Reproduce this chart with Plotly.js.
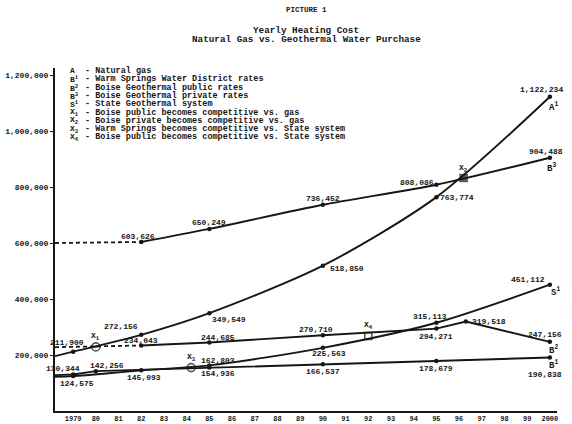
<!DOCTYPE html>
<html><head><meta charset="utf-8">
<script src="https://cdn.plot.ly/plotly-3.0.1.min.js"></script>
<style>html,body{margin:0;padding:0;background:#fff}#chart{width:572px;height:424px}</style>
</head><body><div id="chart"></div>
<script>
// ---------- data ----------
const lineStartYear = 1978.2;   // where the drawn lines meet the vertical axis

const gasYears = [1979, 1982, 1985, 1990, 1995, 2000];
const gasCost  = [211900, 272156, 349549, 518850, 763774, 1122234];
const gasStart = 196000;

const warmYears = [1979, 1980, 1985, 1990, 1995, 2000];
const warmCost  = [130344, 142256, 154936, 166537, 178679, 190838];
const warmStart = 128000;

const boisePubYears = [1982, 1985, 1990, 1995, 1996.3, 2000];
const boisePubCost  = [234043, 244685, 270710, 294271, 319518, 247156];
const boisePubStart = 228000;

const boisePrivYears = [1982, 1985, 1990, 1995, 2000];
const boisePrivCost  = [603626, 650249, 736452, 808086, 904488];
const boisePrivStart = 600000;

const stateYears = [1979, 1982, 1985, 1990, 1995, 2000];
const stateCost  = [124575, 145093, 162803, 225563, 315113, 451112];
const stateStart = 122000;

const crossNames = ['X<sub>1</sub>', 'X<sub>2</sub>', 'X<sub>3</sub>', 'X<sub>4</sub>'];
const crossYears = [1980, 1996.2, 1984.2, 1992];
const crossCost  = [229000, 832000, 155000, 268000];

const legendKeys = ['A', 'B<sup>1</sup>', 'B<sup>2</sup>', 'B<sup>3</sup>', 'S<sup>1</sup>',
                    'X<sub>1</sub>', 'X<sub>2</sub>', 'X<sub>3</sub>', 'X<sub>4</sub>'];
const legendTexts = ['Natural gas',
                     'Warm Springs Water District rates',
                     'Boise Geothermal public rates',
                     'Boise Geothermal private rates',
                     'State Geothermal system',
                     'Boise public becomes competitive vs. gas',
                     'Boise private becomes competitive vs. gas',
                     'Warm Springs becomes competitive vs. State system',
                     'Boise public becomes competitive vs. State system'];

const yearTicks = [1979,1980,1981,1982,1983,1984,1985,1986,1987,1988,1989,1990,
                   1991,1992,1993,1994,1995,1996,1997,1998,1999,2000];
const yearTickText = ['1979','80','81','82','83','84','85','86','87','88','89','90',
                      '91','92','93','94','95','96','97','98','99','2000'];
const costTicks = [200000, 400000, 600000, 800000, 1000000, 1200000];

const titleLines = ['PICTURE 1', 'Yearly Heating Cost', 'Natural Gas vs. Geothermal Water Purchase'];

// ---------- styling ----------
const INK = '#161616';
const MONO = '"Liberation Mono", "DejaVu Sans Mono", monospace';
const fmt = v => v.toLocaleString('en-US');

const series = [
  {years: gasYears, cost: gasCost, start: gasStart, startDashed: false, shape: 'spline',
   key: 'A<sup>1</sup>', keyOff: [4, -10],
   offs: [[-6, 9], [-20, 8], [20, -6], [24, -3], [21, 0], [-8, 7]]},
  {years: warmYears, cost: warmCost, start: warmStart, startDashed: false, shape: 'linear',
   key: 'B<sup>1</sup>', keyOff: [4, -7],
   offs: [[-10, 6], [11, 6], [9, -6], [0, -7], [0, -8], [-5, -17]]},
  {years: boisePubYears, cost: boisePubCost, start: boisePubStart, startDashed: true, shape: 'linear',
   key: 'B<sup>2</sup>', keyOff: [4, -8],
   offs: [[0, 5], [9, 5], [-7, 6], [0, -8], [23, 0], [-5, 7]]},
  {years: boisePrivYears, cost: boisePrivCost, start: boisePrivStart, startDashed: true, shape: 'spline',
   key: 'B<sup>3</sup>', keyOff: [2, -10],
   offs: [[-3, 5], [0, 6], [0, 6], [-19, 2], [-4, 6]]},
  {years: stateYears, cost: stateCost, start: stateStart, startDashed: false, shape: 'spline',
   key: 'S<sup>1</sup>', keyOff: [6, -7],
   offs: [[4, -7], [3, -7], [9, 5], [6, -6], [-6, 6], [-22, 5]]}
];

const traces = [];
const annotations = [];

series.forEach(s => {
  if (s.startDashed) {
    traces.push({type: 'scatter', mode: 'lines', x: [lineStartYear, s.years[0]], y: [s.start, s.cost[0]],
      line: {color: INK, width: 1.8, dash: '4px,3px'}, hoverinfo: 'skip'});
    traces.push({type: 'scatter', mode: 'lines', x: s.years, y: s.cost,
      line: {color: INK, width: 1.9, shape: s.shape, smoothing: 0.8}, hoverinfo: 'skip'});
  } else {
    traces.push({type: 'scatter', mode: 'lines', x: [lineStartYear].concat(s.years), y: [s.start].concat(s.cost),
      line: {color: INK, width: 1.9, shape: s.shape, smoothing: 0.8}, hoverinfo: 'skip'});
  }
  traces.push({type: 'scatter', mode: 'markers', x: s.years, y: s.cost, cliponaxis: false,
    marker: {color: INK, size: 4.5, symbol: 'circle'}, hoverinfo: 'skip'});
  s.years.forEach((yr, i) => {
    annotations.push({xref: 'x', yref: 'y', x: yr, y: s.cost[i], text: fmt(s.cost[i]), showarrow: false,
      xshift: s.offs[i][0], yshift: s.offs[i][1], xanchor: 'center', yanchor: 'middle',
      font: {family: MONO, size: 8, color: INK, weight: 'bold'}});
  });
  const last = s.years.length - 1;
  annotations.push({xref: 'x', yref: 'y', x: s.years[last], y: s.cost[last], text: s.key, showarrow: false,
    xshift: s.keyOff[0], yshift: s.keyOff[1], xanchor: 'center', yanchor: 'middle',
    font: {family: MONO, size: 9, color: INK, weight: 'bold'}});
});

// crossover points
traces.push({type: 'scatter', mode: 'markers', x: crossYears, y: crossCost, cliponaxis: false,
  marker: {color: INK, size: [8, 7, 8, 7], symbol: ['circle-open-dot', 'square', 'circle-open-dot', 'square-open'],
           line: {color: INK, width: 1.6}}, hoverinfo: 'skip'});
crossYears.forEach((yr, i) => {
  annotations.push({xref: 'x', yref: 'y', x: yr, y: crossCost[i], text: crossNames[i], showarrow: false,
    xshift: 0, yshift: 10, xanchor: 'center', yanchor: 'middle',
    font: {family: MONO, size: 8, color: INK, weight: 'bold'}});
});

// key block (upper left)
const plotTop = 68, plotBottom = 411, plotH = plotBottom - plotTop, plotL = 55, plotW = 502;
const py = p => (plotBottom - p) / plotH;
const px = p => (p - plotL) / plotW;
legendKeys.forEach((k, i) => {
  const yy = py(71 + i * 8.3);
  annotations.push({xref: 'paper', yref: 'paper', x: px(68), y: yy, text: k, showarrow: false,
    xanchor: 'left', yanchor: 'middle', font: {family: MONO, size: 8, color: INK, weight: 'bold'}});
  annotations.push({xref: 'paper', yref: 'paper', x: px(83), y: yy, text: '- ' + legendTexts[i], showarrow: false,
    xanchor: 'left', yanchor: 'middle', font: {family: MONO, size: 8.5, color: INK, weight: 'bold'}});
});

// titles
[[10, 7.5], [31, 9.3], [40, 9.3]].forEach((t, i) => {
  annotations.push({xref: 'paper', yref: 'paper', x: px(306), y: py(t[0]), text: titleLines[i], showarrow: false,
    xanchor: 'center', yanchor: 'middle', font: {family: MONO, size: t[1], color: INK, weight: 'bold'}});
});

const layout = {
  width: 572, height: 424,
  margin: {l: plotL, r: 572 - plotL - plotW, t: plotTop, b: 424 - plotBottom, pad: 0},
  paper_bgcolor: '#ffffff', plot_bgcolor: '#ffffff',
  showlegend: false,
  xaxis: {range: [lineStartYear, lineStartYear + plotW / 22.7], tickvals: yearTicks, ticktext: yearTickText,
          showline: true, linewidth: 2, linecolor: INK, showgrid: false, zeroline: false, ticks: '',
          automargin: false, fixedrange: true,
          tickfont: {family: MONO, size: 7, color: INK, weight: 'bold'}},
  yaxis: {range: [0, 1225000], tickvals: costTicks, ticktext: costTicks.map(fmt),
          showline: true, linewidth: 2, linecolor: INK, showgrid: false, zeroline: false,
          ticks: 'outside', ticklen: 3, tickwidth: 1, tickcolor: INK, automargin: false, fixedrange: true,
          tickfont: {family: MONO, size: 8, color: INK, weight: 'bold'}},
  annotations: annotations
};

Plotly.newPlot('chart', traces, layout, {staticPlot: true, displayModeBar: false});
</script>
</body></html>
